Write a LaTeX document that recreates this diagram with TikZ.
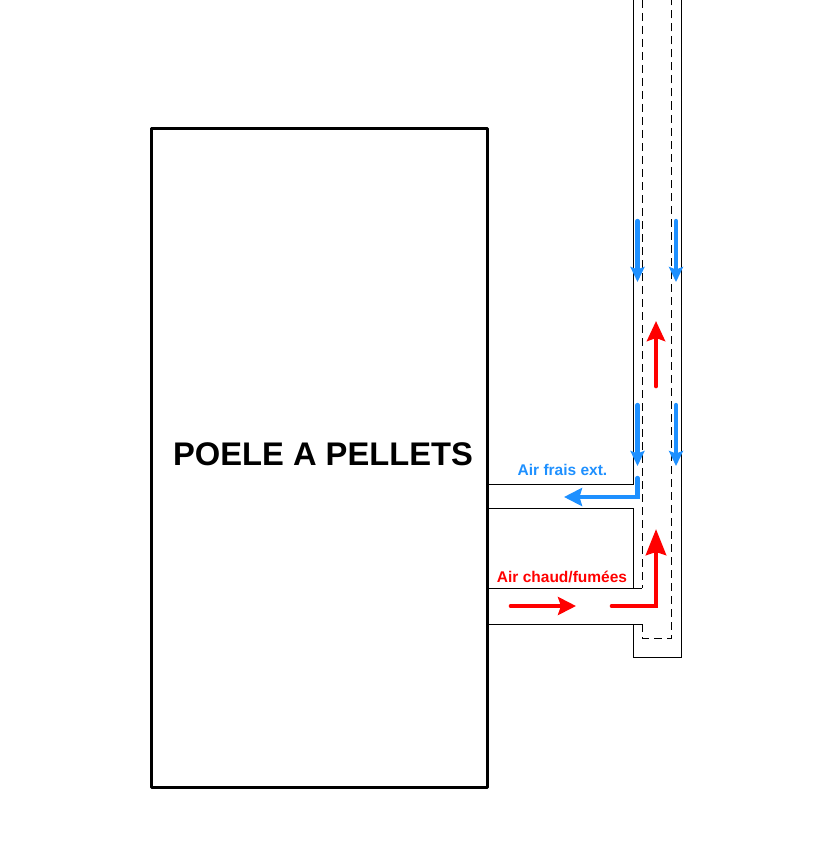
\documentclass[tikz,border=0pt]{standalone}
\usepackage{fontspec}
\setmainfont{Liberation Sans}
\usetikzlibrary{arrows.meta}
\definecolor{airfrais}{RGB}{30,144,255}
\definecolor{airchaud}{RGB}{255,0,0}
\tikzset{
    wall/.style={draw=black, line width=0.9pt},
    inner wall/.style={draw=black, line width=0.9pt, dash pattern=on 8pt off 5pt},
    stove/.style={draw=black, line width=3pt, line join=round, minimum width=336pt, minimum height=659pt, inner sep=0pt},
    cold flow/.style 2 args={draw=airfrais, line width=4.3pt, line cap=round, -{Stealth[length=#1, width=#2, inset=2.5pt]}},
    hot flow/.style 2 args={draw=airchaud, line width=4.7pt, line cap=round, -{Stealth[length=#1, width=#2, inset=3pt]}},
    tag/.style={font=\bfseries\fontsize{15.5}{18}\selectfont, inner sep=0pt}
}

\begin{document}
\begin{tikzpicture}[x=1pt, y=-1pt]
    \useasboundingbox (0, 0) rectangle (824, 864);

    % stove
    \node[stove] (poele) at (319.5, 458) {};
    \node[font=\bfseries\fontsize{32.7}{38}\selectfont, inner sep=0pt] (title) at (323, 454) {POELE A PELLETS};

    % outer wall of the flue and the two ducts
    \draw[wall] (633, 0) -- (633, 484) -- (489, 484);
    \draw[wall] (489, 508) -- (633, 508) -- (633, 588);
    \draw[wall] (489, 588) -- (642, 588);
    \draw[wall] (489, 624) -- (642, 624);
    \draw[wall] (633, 624) -- (633, 657) -- (681.5, 657) -- (681.5, 0);

    % inner wall, dashed
    \draw[inner wall] (642, 0) -- (642, 588);
    \draw[inner wall] (642, 624) -- (642, 638) -- (671.5, 638) -- (671.5, 0);

    % fresh air
    \foreach \xpos in {637.5, 676}
        \foreach \ypos in {221, 405}
            \draw[cold flow={15pt}{14pt}] (\xpos, \ypos) -- ++(0, 61);
    \draw[cold flow={18pt}{18pt}] (637.5, 478) -- (637.5, 497) -- (564, 497);

    % hot air
    \draw[hot flow={20pt}{18pt}] (656, 386) -- (656, 321);
    \draw[hot flow={18pt}{18pt}] (511, 606) -- (576, 606);
    \draw[hot flow={26pt}{20pt}] (612, 606) -- (656, 606) -- (656, 529);

    \node[tag, text=airfrais] (frais) at (562.5, 470) {Air frais ext.};
    \node[tag, text=airchaud] (chaud) at (562, 577) {Air chaud/fumées};
\end{tikzpicture}
\end{document}
